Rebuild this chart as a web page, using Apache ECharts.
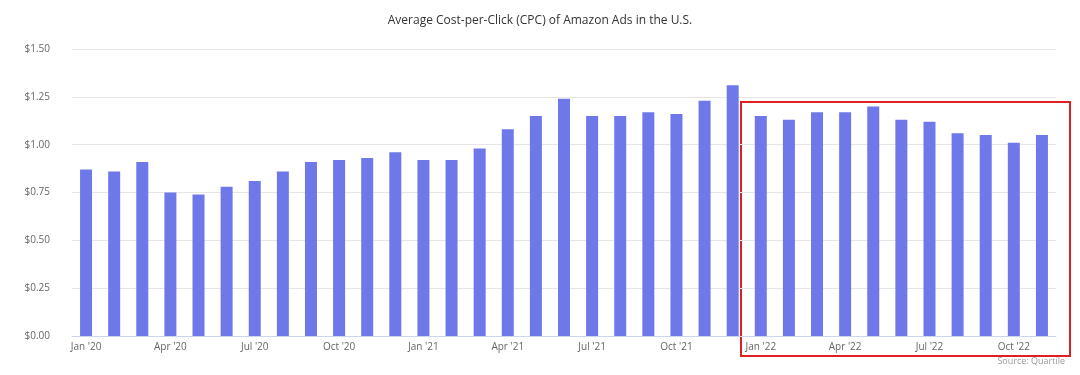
<!DOCTYPE html>
<html>
<head>
<meta charset="utf-8">
<script src="https://cdn.jsdelivr.net/npm/echarts@6/dist/echarts.min.js"></script>
<style>
  html, body { margin: 0; padding: 0; background: #fff; }
  #chart { width: 1080px; height: 375px; }
</style>
</head>
<body>
<div id="chart"></div>
<script>
// months Jan '20 .. Nov '22
const months = [
  "Jan '20", "Feb '20", "Mar '20", "Apr '20", "May '20", "Jun '20",
  "Jul '20", "Aug '20", "Sep '20", "Oct '20", "Nov '20", "Dec '20",
  "Jan '21", "Feb '21", "Mar '21", "Apr '21", "May '21", "Jun '21",
  "Jul '21", "Aug '21", "Sep '21", "Oct '21", "Nov '21", "Dec '21",
  "Jan '22", "Feb '22", "Mar '22", "Apr '22", "May '22", "Jun '22",
  "Jul '22", "Aug '22", "Sep '22", "Oct '22", "Nov '22"
]
// average CPC in USD
const cpc = [
  0.87, 0.86, 0.91, 0.75, 0.74, 0.78, 0.81, 0.86, 0.91, 0.92, 0.93, 0.96,
  0.92, 0.92, 0.98, 1.08, 1.15, 1.24, 1.15, 1.15, 1.17, 1.16, 1.23, 1.31,
  1.15, 1.13, 1.17, 1.17, 1.20, 1.13, 1.12, 1.06, 1.05, 1.01, 1.05
]
const yTicks = [0, 0.25, 0.5, 0.75, 1.0, 1.25, 1.5]

const font = "'Open Sans', 'DejaVu Sans', sans-serif"
let myChart = echarts.init(document.getElementById('chart'))
let option = {
  animation: false,
  title: {
    text: 'Average Cost-per-Click (CPC) of Amazon Ads in the U.S.',
    left: 'center',
    top: 10,
    textStyle: { fontFamily: font, fontSize: 12, fontWeight: 'normal', color: '#333' }
  },
  grid: { left: 72, right: 24, top: 49, bottom: 39 },
  xAxis: {
    type: 'category',
    data: months,
    boundaryGap: true,
    axisLine: { lineStyle: { color: '#ccd6eb' } },
    axisTick: { alignWithLabel: true, interval: 2, length: 6, lineStyle: { color: '#ccd6eb' } },
    axisLabel: { interval: 2, color: '#666', fontFamily: font, fontSize: 10, margin: 6 }
  },
  yAxis: {
    type: 'value',
    min: yTicks[0],
    max: yTicks[yTicks.length - 1],
    interval: 0.25,
    axisLine: { show: false },
    axisTick: { show: false },
    splitLine: { lineStyle: { color: '#e6e6e6' } },
    axisLabel: {
      color: '#666', fontFamily: font, fontSize: 10, margin: 22,
      formatter: v => '$' + v.toFixed(2)
    }
  },
  series: [{
    type: 'bar',
    data: cpc,
    barWidth: 12,
    itemStyle: { color: '#6f78e9' }
  }],
  graphic: [
    {
      type: 'rect',
      shape: { x: 741, y: 102, width: 329, height: 254 },
      style: { fill: 'none', stroke: '#e02020', lineWidth: 2 }
    },
    {
      type: 'text',
      right: 15,
      top: 357,
      style: { text: 'Source: Quartile', fill: '#999', font: "9px 'Open Sans', sans-serif" }
    }
  ]
}
myChart.setOption(option)
</script>
</body>
</html>
